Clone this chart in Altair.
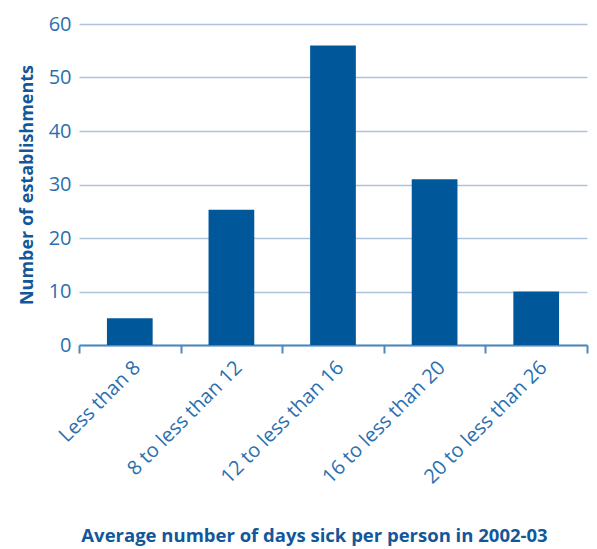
import altair as alt
import pandas as pd

categories = ["Less than 8", "8 to less than 12", "12 to less than 16",
              "16 to less than 20", "20 to less than 26"]
counts = [5, 25.3, 56, 31, 10]

df = pd.DataFrame({"cat": categories, "n": counts})

chart = alt.Chart(df).mark_bar(color="#00589b", width=alt.RelativeBandSize(0.45)).encode(
    x=alt.X("cat:N", sort=categories,
            scale=alt.Scale(paddingInner=0, paddingOuter=0),
            axis=alt.Axis(title="Average number of days sick per person in 2002-03",
                          labelAngle=-45, labelFontSize=20, labelColor="#2a6fae",
                          labelFont="Open Sans", labelPadding=4,
                          domainColor="#4f87bd", domainWidth=2,
                          tickColor="#4f87bd", tickWidth=2, tickSize=8,
                          tickBand="extent", grid=False,
                          titleFont="Open Sans", titleFontSize=18.5, titleFontWeight="bold",
                          titleColor="#12579a", titleY=196, titleX=235,
                          titleBaseline="alphabetic")),
    y=alt.Y("n:Q", scale=alt.Scale(domain=[0, 60]),
            axis=alt.Axis(title="Number of establishments", values=[0, 10, 20, 30, 40, 50, 60],
                          labelFontSize=20, labelColor="#2a6fae", labelFont="Open Sans",
                          labelPadding=8, domain=False, ticks=False,
                          gridColor="#adc3dc", gridWidth=1.5,
                          titleFont="Open Sans", titleFontSize=18, titleFontWeight="bold",
                          titleColor="#12579a", titleX=-43))
).properties(
    width=508, height=321,
    autosize=alt.AutoSizeParams(type="none"),
    padding={"left": 79, "top": 24, "right": 10, "bottom": 204}
).configure_view(stroke=None)

chart.save("out.html", embed_options={"renderer": "svg", "actions": False})
